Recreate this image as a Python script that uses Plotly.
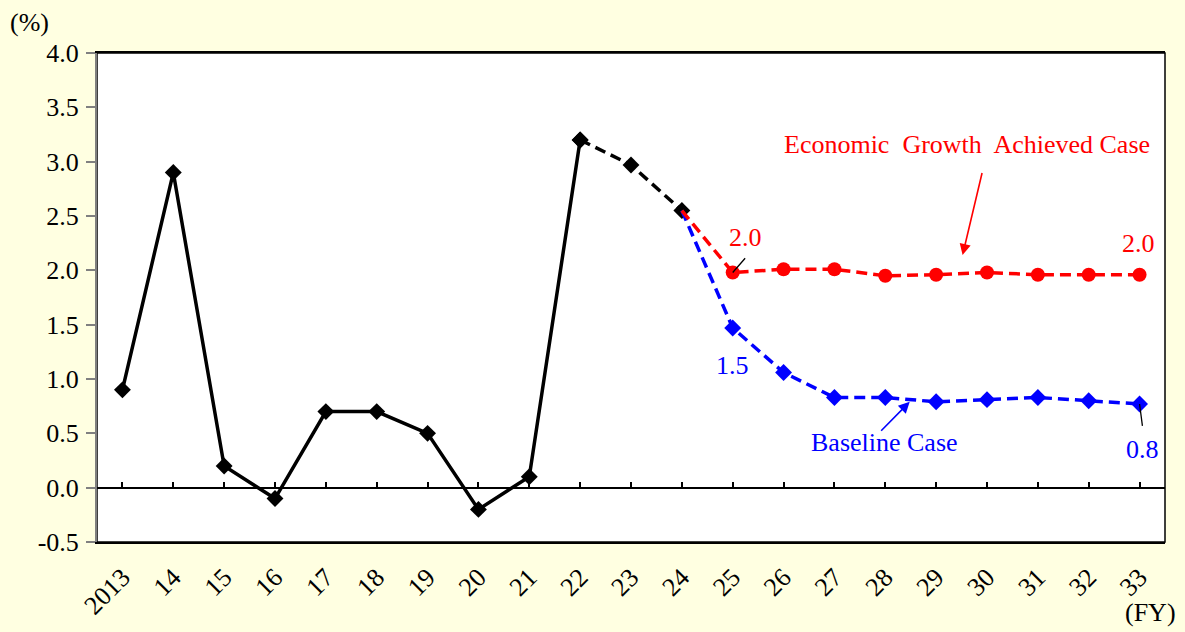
import plotly.graph_objects as go

# Fiscal-year categories
fy_labels = ["2013", "14", "15", "16", "17", "18", "19", "20", "21", "22",
             "23", "24", "25", "26", "27", "28", "29", "30", "31", "32", "33"]

# y-axis tick values and their labels (plain hyphen for negatives)
y_ticks = [-0.5, 0.0, 0.5, 1.0, 1.5, 2.0, 2.5, 3.0, 3.5, 4.0]
y_tick_labels = ["-0.5", "0.0", "0.5", "1.0", "1.5", "2.0", "2.5", "3.0", "3.5", "4.0"]

# Actual results FY2013-FY2022 (%)
actual_fy = ["2013", "14", "15", "16", "17", "18", "19", "20", "21", "22"]
actual = [0.9, 2.9, 0.2, -0.1, 0.7, 0.7, 0.5, -0.2, 0.1, 3.2]

# Estimates FY2022-FY2024 (%)
estimate_fy = ["22", "23", "24"]
estimate = [3.2, 2.97, 2.55]

# Projections FY2025-FY2033 (%)
proj_fy = ["25", "26", "27", "28", "29", "30", "31", "32", "33"]
growth_case = [1.98, 2.01, 2.01, 1.95, 1.96, 1.98, 1.96, 1.96, 1.96]
baseline_case = [1.47, 1.06, 0.83, 0.83, 0.79, 0.81, 0.83, 0.80, 0.77]

RED = "#FF0000"
BLUE = "#0000FF"
BG = "#FFFFE1"
FONT = "Liberation Serif"
FS = 26

idx = {lab: i for i, lab in enumerate(fy_labels)}
xa = [idx[f] for f in actual_fy]
xe = [idx[f] for f in estimate_fy]
xp = [idx[f] for f in proj_fy]
x_last_est = idx[estimate_fy[-1]]

dash = "11px,6px"

fig = go.Figure()

# actual results
fig.add_trace(go.Scatter(
    x=xa, y=actual, mode="lines+markers",
    line=dict(color="black", width=3.5),
    marker=dict(symbol="diamond", size=13, color="black"),
    showlegend=False, hoverinfo="skip"))

# estimates
fig.add_trace(go.Scatter(
    x=xe, y=estimate, mode="lines+markers",
    line=dict(color="black", width=3.5, dash=dash),
    marker=dict(symbol="diamond", size=13, color="black"),
    showlegend=False, hoverinfo="skip"))

# baseline case: line continues from the last estimate
fig.add_trace(go.Scatter(
    x=[x_last_est] + xp, y=[estimate[-1]] + baseline_case, mode="lines",
    line=dict(color=BLUE, width=3.5, dash=dash),
    showlegend=False, hoverinfo="skip"))
fig.add_trace(go.Scatter(
    x=xp, y=baseline_case, mode="markers",
    marker=dict(symbol="diamond", size=13, color=BLUE),
    showlegend=False, hoverinfo="skip"))

# economic growth achieved case
fig.add_trace(go.Scatter(
    x=[x_last_est] + xp, y=[estimate[-1]] + growth_case, mode="lines",
    line=dict(color=RED, width=3.5, dash=dash),
    showlegend=False, hoverinfo="skip"))
# markers sit on the overlay axis that carries the tick marks at y = 0
fig.add_trace(go.Scatter(
    x=xp, y=growth_case, mode="markers", xaxis="x2",
    marker=dict(symbol="circle", size=14, color=RED),
    showlegend=False, hoverinfo="skip"))

annotations = []

def text_ann(x, y, text, color, size=FS):
    annotations.append(dict(x=x, y=y, xref="x", yref="y", text=text,
                            showarrow=False, font=dict(family=FONT, size=size, color=color)))

def line_ann(x, y, ax, ay, color, head=0, width=1.3):
    annotations.append(dict(x=x, y=y, ax=ax, ay=ay, xref="x", yref="y",
                            axref="x", ayref="y", text="", showarrow=True,
                            arrowhead=head, arrowsize=1.4, arrowwidth=width, arrowcolor=color))

# case titles with arrows
text_ann(16.6, 3.16, "Economic&#160; Growth&#160; Achieved Case", RED)
line_ann(16.52, 2.14, 16.91, 2.91, RED, head=2, width=1.6)
text_ann(14.99, 0.42, "Baseline Case", BLUE)
line_ann(15.48, 0.79, 14.89, 0.51, BLUE, head=2, width=1.6)

# value labels
first, last = xp[0], xp[-1]
text_ann(first + 0.25, 2.3, f"{growth_case[0]:.1f}", RED)
line_ann(first, growth_case[0], first + 0.27, 2.125, "black")
text_ann(first - 0.01, 1.12, f"{baseline_case[0]:.1f}", BLUE)
text_ann(last - 0.02, 2.25, f"{growth_case[-1]:.1f}", RED)
text_ann(last + 0.06, 0.35, f"{baseline_case[-1]:.1f}", BLUE)
line_ann(last, baseline_case[-1], last + 0.06, 0.555, "black")

# unit labels
annotations.append(dict(x=-0.063, y=1.062, xref="paper", yref="paper", text="(%)",
                        showarrow=False, xanchor="center", yanchor="middle",
                        font=dict(family=FONT, size=FS, color="black")))
annotations.append(dict(x=0.986, y=-0.145, xref="paper", yref="paper", text="(FY)",
                        showarrow=False, xanchor="center", yanchor="middle",
                        font=dict(family=FONT, size=FS, color="black")))

fig.update_layout(
    width=1185, height=632,
    margin=dict(l=97, r=20, t=53, b=86),
    paper_bgcolor=BG, plot_bgcolor="white",
    font=dict(family=FONT, size=FS, color="black"),
    annotations=annotations,
    xaxis=dict(
        range=[-0.5, 20.5], tickvals=list(range(len(fy_labels))), ticktext=fy_labels,
        tickangle=-45, ticks="", showgrid=False, zeroline=False,
        showline=True, linecolor="black", linewidth=1.5, mirror=True,
        ticklabelstandoff=8, tickfont=dict(family=FONT, size=FS),
    ),
    xaxis2=dict(
        overlaying="x", matches="x", side="top", anchor="free", position=0.5 / 4.5,
        range=[-0.5, 20.5], tickvals=list(range(len(fy_labels))),
        ticks="outside", ticklen=6, tickwidth=1.5, tickcolor="black",
        showticklabels=False, showgrid=False, zeroline=False, showline=False,
    ),
    yaxis=dict(
        range=[-0.5, 4.0], tickvals=y_ticks, ticktext=y_tick_labels,
        ticks="outside", ticklen=9, tickwidth=1.5, tickcolor="#808080",
        showgrid=False, zeroline=True, zerolinecolor="black", zerolinewidth=1.5,
        showline=True, linecolor="#808080", linewidth=2,
        tickfont=dict(family=FONT, size=FS), ticklabelstandoff=2,
    ),
    shapes=[dict(type="rect", xref="paper", yref="paper", x0=0, y0=0, x1=1, y1=1,
                 line=dict(color="black", width=1.5), layer="below")],
)

fig.write_html("out.html")
